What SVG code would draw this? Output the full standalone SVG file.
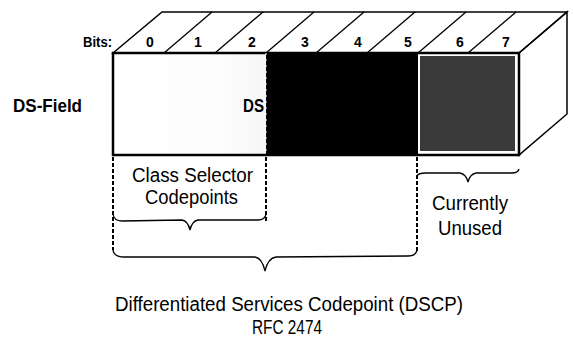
<svg xmlns="http://www.w3.org/2000/svg" width="573" height="343" viewBox="0 0 573 343">
<style>
.lbl{font-family:"Liberation Sans",Arial,sans-serif;font-size:20px;fill:#000}
.bit{font-family:"Liberation Sans",Arial,sans-serif;font-size:14px;font-weight:bold;fill:#000;text-anchor:middle}
.bold{font-family:"Liberation Sans",Arial,sans-serif;font-weight:bold;fill:#000}
.dash{stroke:#000;stroke-width:2;stroke-dasharray:4 2;fill:none}
.brace{stroke:#000;stroke-width:1.3;fill:none}
.edge{stroke:#000;fill:none}
</style>
<defs>
<linearGradient id="wg" x1="0" y1="0" x2="1" y2="0">
<stop offset="0" stop-color="#ffffff"/>
<stop offset="0.7" stop-color="#fdfdfd"/>
<stop offset="1" stop-color="#f6f6f6"/>
</linearGradient>
</defs>
<rect width="573" height="343" fill="#fff"/>
<g id="box">
<polygon points="113,53 162,12 567,12 519,53" fill="#fff" class="edge" stroke-width="1.5"/>
<polygon points="519,53 567,12 567,114 519,155" fill="#fff" class="edge" stroke-width="1.5"/>
<g class="edge" stroke-width="1.3">
<line x1="164" y1="53" x2="212" y2="12"/>
<line x1="215" y1="53" x2="263" y2="12"/>
<line x1="266" y1="53" x2="314" y2="12"/>
<line x1="316" y1="53" x2="364" y2="12"/>
<line x1="367" y1="53" x2="415" y2="12"/>
<line x1="418" y1="53" x2="466" y2="12"/>
<line x1="468" y1="53" x2="516" y2="12"/>
</g>
<rect x="113" y="53" width="153" height="102" fill="url(#wg)"/>
<rect x="266" y="53" width="152" height="102" fill="#000"/>
<rect x="418" y="53" width="101" height="102" fill="#fff"/>
<rect x="420" y="56" width="95" height="95" fill="#3a3a3a"/>
<rect x="113" y="53" width="406" height="102" class="edge" stroke-width="2.5"/>
<line x1="266" y1="53" x2="266" y2="155" stroke="#fff" stroke-width="1" stroke-dasharray="2 4"/>
</g>
<g id="labels">
<text class="bold" x="83" y="47" font-size="14" textLength="29" lengthAdjust="spacingAndGlyphs">Bits:</text>
<text class="bit" x="150" y="47">0</text>
<text class="bit" x="198" y="47">1</text>
<text class="bit" x="252" y="47">2</text>
<text class="bit" x="305" y="47">3</text>
<text class="bit" x="358" y="47">4</text>
<text class="bit" x="408" y="47">5</text>
<text class="bit" x="460" y="47">6</text>
<text class="bit" x="506" y="47">7</text>
<text class="bold" x="13" y="112" font-size="19" textLength="69" lengthAdjust="spacingAndGlyphs">DS-Field</text>
<text class="bold" x="243" y="112" font-size="19" textLength="21" lengthAdjust="spacingAndGlyphs">DS</text>
</g>
<g id="connectors">
<line class="dash" x1="113" y1="157" x2="113" y2="250"/>
<line class="dash" x1="266" y1="157" x2="266" y2="221"/>
<line class="dash" x1="417" y1="157" x2="417" y2="251"/>
<path class="brace" d="M113,214 Q114,221 122,221 L182,220 Q188,221 190,230 Q192,221 198,220 L258,220 Q265,220 266,214"/>
<path class="brace" d="M113,250 Q114,257 124,257 L255,257 Q262,258 265,271 Q268,258 276,257 L408,256 Q416,256 417,250"/>
<path class="brace" d="M417,176 Q418,173 426,173 L460,173 Q466,174 468,182 Q470,174 476,173 L512,173 Q518,173 519,169"/>
</g>
<g id="texts">
<text class="lbl" x="132" y="182" textLength="121" lengthAdjust="spacingAndGlyphs">Class Selector</text>
<text class="lbl" x="145" y="204" textLength="93" lengthAdjust="spacingAndGlyphs">Codepoints</text>
<text class="lbl" x="432" y="210" textLength="76" lengthAdjust="spacingAndGlyphs">Currently</text>
<text class="lbl" x="438" y="235" textLength="64" lengthAdjust="spacingAndGlyphs">Unused</text>
<text class="lbl" x="115" y="311" textLength="348" lengthAdjust="spacingAndGlyphs">Differentiated Services Codepoint (DSCP)</text>
<text class="lbl" x="252" y="334" textLength="70" lengthAdjust="spacingAndGlyphs">RFC 2474</text>
</g>
</svg>
